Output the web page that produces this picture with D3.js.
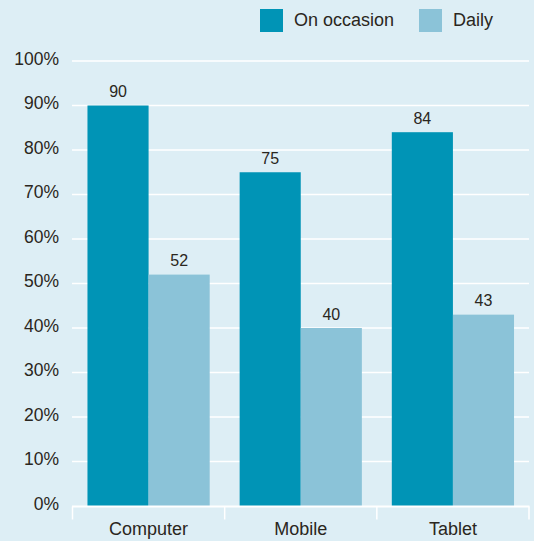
<!DOCTYPE html>
<html>
<head>
<meta charset="utf-8">
<script src="https://cdn.jsdelivr.net/npm/d3@7"></script>
<style>
  html, body { margin: 0; padding: 0; background: #ddeef5; }
  svg { display: block; }
  text { font-family: "Liberation Sans", Arial, Helvetica, sans-serif; fill: #2a2620; }
</style>
</head>
<body>
<svg id="chart" width="534" height="541"></svg>
<script>
const categories = ["Computer", "Mobile", "Tablet"];
const seriesNames = ["On occasion", "Daily"];
const onOccasion = [90, 75, 84];
const daily = [52, 40, 43];
const yTicks = [0, 10, 20, 30, 40, 50, 60, 70, 80, 90, 100];
const colors = ["#0094b6", "#8bc3d8"];

const seriesValues = [onOccasion, daily];
const data = categories.map((c, i) => ({
  cat: c,
  vals: seriesNames.map((s, j) => ({ key: s, value: seriesValues[j][i] }))
}));

const svg = d3.select("#chart");
svg.append("rect").attr("width", 534).attr("height", 541).attr("fill", "#ddeef5");

const x0 = d3.scaleBand().domain(categories).range([72.5, 529]).paddingInner(0).paddingOuter(0);
const x1 = d3.scaleBand().domain(seriesNames).range([0, x0.bandwidth()]).paddingInner(0).paddingOuter(0.245);
const y = d3.scaleLinear().domain([0, 100]).range([506, 61]);

// gridlines
svg.append("g").selectAll("line").data(yTicks.filter(d => d > 0)).join("line")
  .attr("x1", 72).attr("x2", 529)
  .attr("y1", d => y(d)).attr("y2", d => y(d))
  .attr("stroke", "#ffffff").attr("stroke-width", 1.5);

// y tick labels
svg.append("g").selectAll("text").data(yTicks).join("text")
  .attr("x", 59).attr("y", d => y(d) + 3.5)
  .attr("text-anchor", "end")
  .style("font-size", "17.5px")
  .text(d => d + "%");

// bars
const groups = svg.append("g").selectAll("g").data(data).join("g")
  .attr("transform", d => `translate(${x0(d.cat)},0)`);

groups.selectAll("rect").data(d => d.vals).join("rect")
  .attr("x", d => x1(d.key))
  .attr("width", x1.bandwidth())
  .attr("y", d => y(d.value))
  .attr("height", d => y(0) - y(d.value))
  .attr("fill", (d, i) => colors[i]);

groups.selectAll("text").data(d => d.vals).join("text")
  .attr("x", d => x1(d.key) + x1.bandwidth() / 2)
  .attr("y", d => y(d.value) - 8.5)
  .attr("text-anchor", "middle")
  .style("font-size", "16px")
  .text(d => d.value);

// x axis
const xAxis = svg.append("g").attr("transform", "translate(0,506.5)");
xAxis.append("line").attr("x1", 72).attr("x2", 529.5).attr("y1", 0).attr("y2", 0)
  .attr("stroke", "#ffffff").attr("stroke-width", 2);
const boundaries = categories.map(c => x0(c)).concat([x0(categories[categories.length - 1]) + x0.bandwidth()]);
xAxis.selectAll("line.tick").data(boundaries).join("line")
  .attr("class", "tick")
  .attr("x1", d => d).attr("x2", d => d)
  .attr("y1", 0).attr("y2", 13)
  .attr("stroke", "#ffffff").attr("stroke-width", 1.5);
xAxis.selectAll("text").data(categories).join("text")
  .attr("x", d => x0(d) + x0.bandwidth() / 2)
  .attr("y", 28.5)
  .attr("text-anchor", "middle")
  .style("font-size", "18px")
  .text(d => d);

// legend
const legendPos = [260, 419];
const legend = svg.append("g").selectAll("g").data(seriesNames).join("g")
  .attr("transform", (d, i) => `translate(${legendPos[i]},9)`);
legend.append("rect").attr("width", 23).attr("height", 23).attr("fill", (d, i) => colors[i]);
legend.append("text").attr("x", 34).attr("y", 17)
  .style("font-size", "18px")
  .text(d => d);
</script>
</body>
</html>
